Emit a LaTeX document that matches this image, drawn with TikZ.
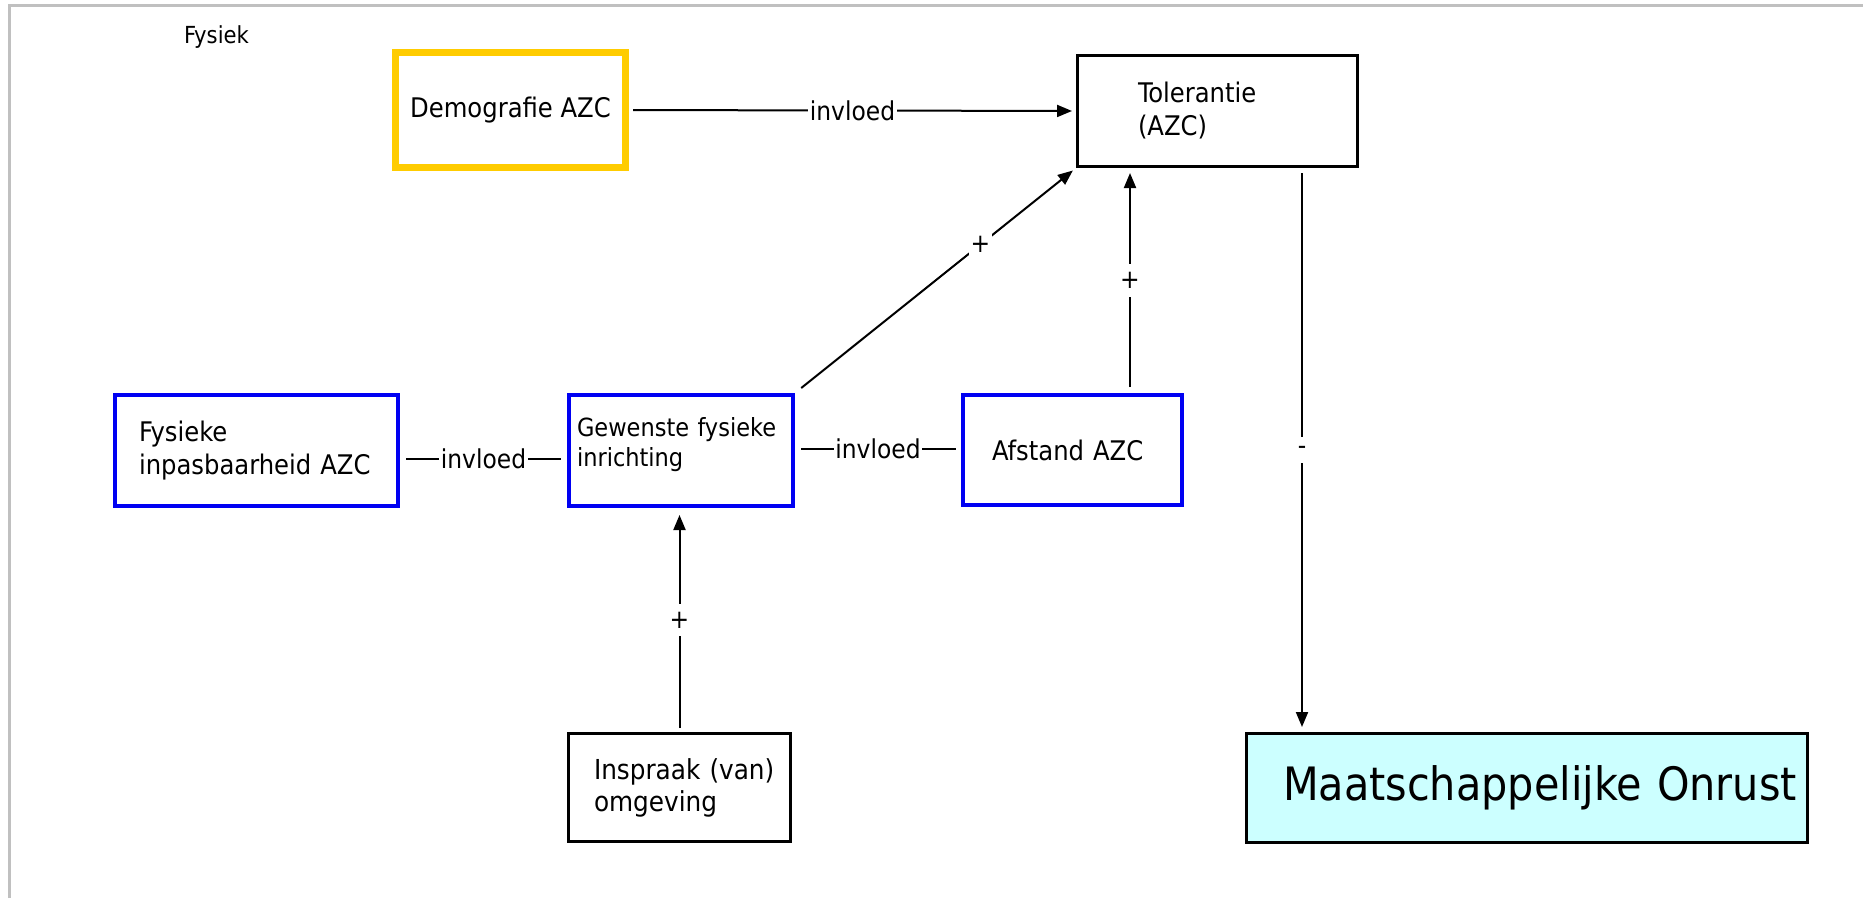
\documentclass[tikz,border=0pt]{standalone}
\usepackage{fontspec}
\setmainfont{DejaVu Sans Condensed}
\usetikzlibrary{arrows.meta}

\definecolor{azcgeel}{HTML}{FFCC00}
\definecolor{azcblauw}{HTML}{0000F2}
\definecolor{onrust}{HTML}{CCFFFF}
\definecolor{rand}{HTML}{C0C0C0}

\tikzset{
	blok/.style={rectangle, draw, line width=3pt, minimum height=111pt, align=left, inner ysep=0pt, font=\fontsize{27}{33}\selectfont},
	fysblok/.style={blok, draw=azcblauw, line width=4pt},
	pijl/.style={line width=2pt, -{Triangle[length=15pt,width=12pt]}},
	lijn/.style={line width=2pt},
	teken/.style={fill=white, inner xsep=1.5pt, inner ysep=0pt, font=\fontsize{26}{30}\selectfont}
}

\begin{document}
\begin{tikzpicture}[x=1pt, y=-1pt]
	\useasboundingbox (0,0) rectangle (1863,898);
	\draw[rand, line width=3pt] (9,898) -- (9,5) -- (1863,5);

	% Title
	\node[anchor=base west, inner sep=0pt, font=\fontsize{23.5}{28}\selectfont] (kop) at (184,43) {Fysiek};

	% Top row
	\node[blok, draw=azcgeel, line width=7pt, minimum width=230pt, minimum height=115pt] (dem) at (510.5,110) {Demografie AZC};
	\node[blok, text width=159pt, inner xsep=60.5pt] (tol) at (1217.5,111) {Tolerantie\\(AZC)};

	% Blue boxes
	\node[fysblok, text width=235pt, inner xsep=24pt] (fys) at (256.5,450.5) {Fysieke\\inpasbaarheid AZC};
	\node[fysblok, text width=208pt, inner xsep=8pt, text height=19pt, text depth=48pt, font=\fontsize{25}{30}\selectfont] (gew) at (681,450.5) {Gewenste fysieke\\inrichting};
	\node[fysblok, text width=161pt, inner xsep=29pt, minimum height=110pt] (afs) at (1072.5,450) {Afstand AZC};

	% Bottom row
	\node[blok, text width=171pt, inner xsep=25.5pt, minimum height=108pt, font=\fontsize{27.5}{32}\selectfont] (ins) at (679.5,787.5) {\mbox{Inspraak (van)}\\omgeving};
	\node[blok, fill=onrust, text width=488pt, inner xsep=36.5pt, minimum height=109pt, font=\fontsize{46}{55}\selectfont] (maa) at (1527,788) {\mbox{Maatschappelijke Onrust}};

	% Connectors
	\draw[pijl, shorten <=4pt, shorten >=4pt] (dem.east) -- node[teken] (inv1) {invloed} (tol.west);
	\draw[lijn, shorten <=6pt, shorten >=6pt] ([yshift=-8.5pt]fys.east) -- node[teken] (inv2) {invloed} ([yshift=-8.5pt]fys.east -| gew.west);
	\draw[lijn, shorten <=6pt, shorten >=5pt] ([yshift=1.5pt]gew.east) -- node[teken] (inv3) {invloed} ([yshift=1.5pt]gew.east -| afs.west);

	\draw[pijl, shorten <=8pt, shorten >=4pt] (gew.north east) -- node[teken, pos=0.66, inner sep=2pt] (plus1) {+} (tol.south west);
	\draw[pijl, shorten <=6pt, shorten >=5pt] ([xshift=57.5pt]afs.north) -- node[teken, inner ysep=8pt] (plus2) {+} ([xshift=57.5pt]afs.north |- tol.south);
	\draw[pijl, shorten <=4pt, shorten >=7pt] (ins.north) -- node[teken, inner ysep=8pt] (plus3) {+} (ins.north |- gew.south);
	\draw[pijl, shorten <=5pt, shorten >=5pt] ([xshift=84.5pt]tol.south) -- node[teken, inner ysep=9pt] (min1) {-} ([xshift=84.5pt]tol.south |- maa.north);
\end{tikzpicture}
\end{document}
